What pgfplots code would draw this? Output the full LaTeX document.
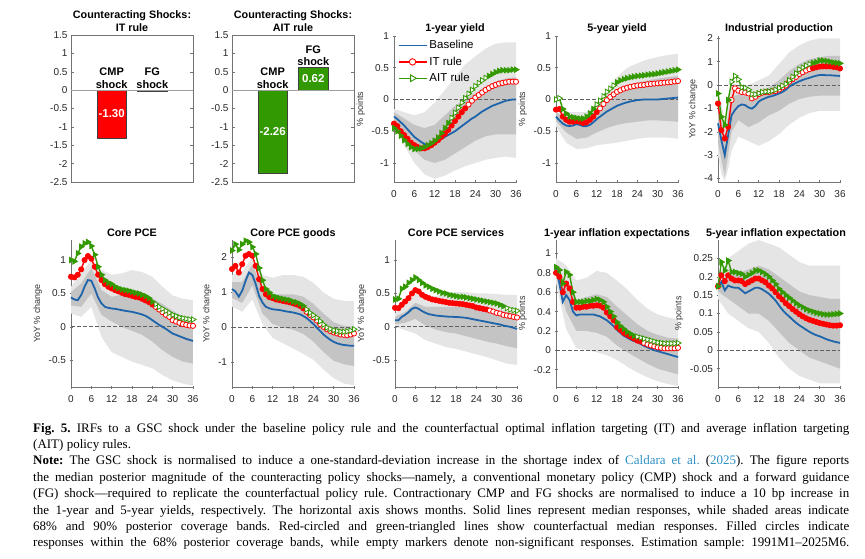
\documentclass[border=0pt]{standalone}
\usepackage{pgfplots}
\pgfplotsset{compat=1.18}
\usepackage{pgfplotstable}
\usepgfplotslibrary{fillbetween}
\usepackage{fontspec}
\setmainfont{Liberation Sans}
\newfontfamily\capfont{Liberation Serif}

\definecolor{mblue}{RGB}{30,100,170}
\definecolor{mred}{RGB}{255,0,0}
\definecolor{mgreen}{RGB}{51,153,0}
\definecolor{bnine}{gray}{0.9}
\definecolor{bsix}{gray}{0.77}
\definecolor{axgray}{gray}{0.45}
\definecolor{linkblue}{RGB}{43,143,196}

\pgfplotsset{
  common/.style={scale only axis, anchor=south west,
    tick align=inside, major tick length=3pt,
    tick style={draw=axgray, line width=0.5pt},
    ticklabel style={font=\fontsize{10}{11}\selectfont, text=black!85},
    yticklabel style={/pgf/number format/fixed, /pgf/number format/precision=2},
    scaled y ticks=false,
    every axis title/.style={at={(0.5,1)}, anchor=south, inner sep=0pt, yshift=1.5pt,
      font=\bfseries\fontsize{10.8}{13}\selectfont, align=center, text depth=2.3pt},
    ylabel style={font=\fontsize{9}{10}\selectfont, text=black!80},
    clip=false, /pgf/number format/assume math mode=true},
  lp/.style={common, width=122pt, height=146pt,
    axis lines=left, axis line style={-, draw=axgray, line width=0.6pt},
    xmin=0, xmax=36, xtick={0,6,...,36}, xticklabel style={yshift=-3pt}},
  bp/.style={common, width=122pt, height=147pt,
    xmin=0, xmax=3, ymin=-2.5, ymax=1.5, ytick={-2.5,-2,...,1.5}, xtick=\empty,
    axis line style={draw=axgray, line width=0.6pt}},
  itF/.style={only marks, mark=*, mark size=2.6pt, mark options={draw=mred, fill=mred, line width=0.8pt, solid}, forget plot},
  itO/.style={only marks, mark=*, mark size=2.6pt, mark options={draw=mred, fill=white, line width=0.8pt, solid}, forget plot},
  aitF/.style={only marks, mark=triangle*, mark size=3.1pt, mark options={draw=mgreen, fill=mgreen, line width=0.8pt, rotate=-90, solid}, forget plot},
  aitO/.style={only marks, mark=triangle*, mark size=3.1pt, mark options={draw=mgreen, fill=white, line width=0.8pt, rotate=-90, solid}, forget plot},
}

\newcommand\bands[2]{%
  \addplot[draw=none, forget plot, name path=ua#2] table[x=x,y=u9]{#1};
  \addplot[draw=none, forget plot, name path=la#2] table[x=x,y=l9]{#1};
  \addplot[fill=bnine, draw=none, forget plot] fill between[of=ua#2 and la#2];
  \addplot[draw=none, forget plot, name path=ub#2] table[x=x,y=u6]{#1};
  \addplot[draw=none, forget plot, name path=lb#2] table[x=x,y=l6]{#1};
  \addplot[fill=bsix, draw=none, forget plot] fill between[of=ub#2 and lb#2];
  \addplot[forget plot, draw=black!62, line width=1pt, dash pattern=on 3.5pt off 2.5pt] coordinates {(0,0) (36,0)};
}
\newcommand\itline[1]{\addplot[draw=mred, line width=1.4pt, forget plot] table[x=x,y=it]{#1};}
\newcommand\aitline[1]{\addplot[draw=mgreen, line width=1.4pt, forget plot] table[x=x,y=ait]{#1};}
\newcommand\itf[2]{\addplot[itF, restrict x to domain=#2] table[x=x,y=it]{#1};}
\newcommand\ito[2]{\addplot[itO, restrict x to domain=#2] table[x=x,y=it]{#1};}
\newcommand\aitf[2]{\addplot[aitF, restrict x to domain=#2] table[x=x,y=ait]{#1};}
\newcommand\aito[2]{\addplot[aitO, restrict x to domain=#2] table[x=x,y=ait]{#1};}
\newcommand\base[1]{\addplot[draw=mblue, line width=1.8pt, forget plot] table[x=x,y=b]{#1};}

% ---------- 1-year yield
\pgfplotstableread[row sep=\\]{x b it ait\\
0 -0.27 -0.38 -0.45\\ 1 -0.31 -0.42 -0.50\\ 2 -0.36 -0.50 -0.57\\ 3 -0.41 -0.56 -0.64\\
4 -0.47 -0.62 -0.70\\ 5 -0.53 -0.68 -0.75\\ 6 -0.59 -0.72 -0.78\\ 7 -0.63 -0.75 -0.78\\
8 -0.67 -0.77 -0.77\\ 9 -0.70 -0.77 -0.75\\ 10 -0.73 -0.75 -0.72\\ 11 -0.72 -0.72 -0.69\\
12 -0.69 -0.68 -0.65\\ 13 -0.66 -0.64 -0.60\\ 14 -0.62 -0.59 -0.53\\ 15 -0.59 -0.54 -0.45\\
16 -0.56 -0.48 -0.37\\ 17 -0.53 -0.41 -0.29\\ 18 -0.50 -0.34 -0.21\\ 19 -0.46 -0.27 -0.13\\
20 -0.42 -0.20 -0.05\\ 21 -0.38 -0.14 0.02\\ 22 -0.34 -0.08 0.09\\ 23 -0.30 -0.02 0.15\\
24 -0.27 0.03 0.21\\ 25 -0.23 0.07 0.26\\ 26 -0.19 0.11 0.30\\ 27 -0.16 0.15 0.34\\
28 -0.13 0.18 0.37\\ 29 -0.10 0.21 0.40\\ 30 -0.08 0.23 0.43\\ 31 -0.06 0.25 0.45\\
32 -0.04 0.26 0.46\\ 33 -0.02 0.27 0.46\\ 34 -0.01 0.28 0.46\\ 35 0.00 0.28 0.47\\ 36 0.00 0.28 0.47\\}\LOneY
\pgfplotstableread[row sep=\\]{x u9 l9 u6 l6\\
0 -0.15 -0.42 -0.20 -0.35\\ 3 -0.20 -0.72 -0.30 -0.55\\ 6 -0.25 -1.00 -0.40 -0.80\\
9 -0.20 -1.18 -0.45 -0.95\\ 12 -0.05 -1.25 -0.40 -1.00\\ 15 0.15 -1.20 -0.25 -0.95\\
18 0.35 -1.12 -0.10 -0.85\\ 21 0.55 -1.05 0.00 -0.75\\ 24 0.68 -1.00 0.10 -0.65\\
27 0.80 -0.95 0.20 -0.58\\ 30 0.88 -0.92 0.28 -0.55\\ 33 0.90 -0.90 0.33 -0.55\\ 36 0.90 -0.92 0.35 -0.55\\}\BOneY

% ---------- 5-year yield
\pgfplotstableread[row sep=\\]{x b it ait\\
0 -0.27 -0.16 0.00\\ 1 -0.33 -0.15 0.02\\ 2 -0.38 -0.27 -0.15\\ 3 -0.41 -0.32 -0.22\\
4 -0.42 -0.35 -0.27\\ 5 -0.41 -0.35 -0.28\\ 6 -0.39 -0.34 -0.29\\ 7 -0.40 -0.35 -0.30\\
8 -0.42 -0.37 -0.30\\ 9 -0.42 -0.36 -0.27\\ 10 -0.40 -0.32 -0.22\\ 11 -0.36 -0.27 -0.15\\
12 -0.31 -0.20 -0.08\\ 13 -0.27 -0.14 -0.02\\ 14 -0.23 -0.07 0.05\\ 15 -0.19 -0.01 0.12\\
16 -0.16 0.04 0.17\\ 17 -0.13 0.08 0.22\\ 18 -0.10 0.12 0.27\\ 19 -0.08 0.145 0.30\\
20 -0.06 0.17 0.32\\ 21 -0.045 0.185 0.335\\ 22 -0.03 0.20 0.35\\ 23 -0.02 0.21 0.36\\
24 -0.01 0.22 0.37\\ 25 -0.005 0.225 0.375\\ 26 0.00 0.23 0.38\\ 27 0.00 0.24 0.39\\
28 0.00 0.245 0.395\\ 29 0.00 0.25 0.40\\ 30 0.00 0.255 0.41\\ 31 0.005 0.26 0.42\\
32 0.01 0.265 0.43\\ 33 0.015 0.27 0.44\\ 34 0.02 0.275 0.45\\ 35 0.025 0.285 0.46\\ 36 0.03 0.29 0.47\\}\LFiveY
\pgfplotstableread[row sep=\\]{x u9 l9 u6 l6\\
0 -0.15 -0.42 -0.21 -0.34\\ 3 -0.20 -0.68 -0.28 -0.52\\ 6 -0.20 -0.78 -0.30 -0.62\\
9 -0.20 -0.77 -0.30 -0.60\\ 12 -0.05 -0.72 -0.20 -0.52\\ 15 0.15 -0.70 -0.05 -0.45\\
18 0.35 -0.68 0.10 -0.40\\ 21 0.50 -0.65 0.20 -0.37\\ 24 0.57 -0.62 0.27 -0.35\\
27 0.63 -0.60 0.30 -0.33\\ 30 0.67 -0.60 0.33 -0.33\\ 33 0.70 -0.60 0.35 -0.34\\ 36 0.72 -0.62 0.37 -0.35\\}\BFiveY

% ---------- Industrial production
\pgfplotstableread[row sep=\\]{x b it ait\\
0 -1.64 -0.79 -0.36\\ 1 -2.36 -1.93 -1.36\\ 2 -3.00 -2.29 -1.71\\ 3 -2.14 -1.79 -0.64\\
4 -1.29 -0.64 0.14\\ 5 -1.07 -0.14 0.39\\ 6 -0.90 -0.24 0.24\\ 7 -0.83 -0.30 -0.10\\
8 -0.86 -0.32 -0.12\\ 9 -0.96 -0.36 -0.20\\ 10 -1.01 -0.57 -0.39\\ 11 -0.90 -0.50 -0.40\\
12 -0.71 -0.39 -0.35\\ 13 -0.62 -0.33 -0.30\\ 14 -0.56 -0.30 -0.28\\ 15 -0.50 -0.30 -0.27\\
16 -0.47 -0.27 -0.25\\ 17 -0.42 -0.25 -0.20\\ 18 -0.36 -0.19 -0.12\\ 19 -0.30 -0.10 -0.03\\
20 -0.20 -0.02 0.05\\ 21 -0.07 0.14 0.20\\ 22 0.02 0.25 0.35\\ 23 0.09 0.35 0.50\\
24 0.16 0.47 0.67\\ 25 0.22 0.55 0.75\\ 26 0.27 0.62 0.83\\ 27 0.31 0.68 0.90\\
28 0.36 0.72 0.95\\ 29 0.40 0.76 0.98\\ 30 0.43 0.79 1.05\\ 31 0.43 0.80 1.05\\
32 0.42 0.80 1.03\\ 33 0.42 0.80 1.00\\ 34 0.41 0.78 0.97\\ 35 0.40 0.76 0.95\\ 36 0.39 0.71 0.93\\}\LIP
\pgfplotstableread[row sep=\\]{x u9 l9 u6 l6\\
0 -0.3 -3.0 -0.8 -2.5\\ 1 -0.8 -3.8 -1.5 -3.2\\ 2 -1.5 -4.1 -2.2 -3.9\\ 3 -0.5 -3.6 -1.3 -3.0\\
4 0.1 -2.8 -0.5 -2.0\\ 6 0.0 -2.2 -0.4 -1.5\\ 9 0.0 -2.4 -0.5 -1.8\\ 12 0.2 -2.6 -0.3 -1.6\\
15 0.4 -2.4 -0.1 -1.3\\ 18 0.9 -2.1 0.2 -1.1\\ 21 1.4 -1.7 0.6 -0.8\\ 24 1.7 -1.4 0.9 -0.6\\
27 1.9 -1.2 1.1 -0.5\\ 30 2.0 -1.1 1.2 -0.45\\ 33 2.0 -1.1 1.25 -0.45\\ 36 2.0 -1.1 1.25 -0.45\\}\BIP

% ---------- Core PCE
\pgfplotstableread[row sep=\\]{x b it ait\\
0 0.44 0.75 1.00\\ 1 0.41 0.74 0.98\\ 2 0.40 0.78 1.10\\ 3 0.475 0.86 1.20\\
4 0.60 1.00 1.25\\ 5 0.70 1.06 1.27\\ 6 0.69 1.02 1.21\\ 7 0.575 0.90 1.08\\
8 0.44 0.78 0.90\\ 9 0.35 0.70 0.78\\ 10 0.30 0.64 0.70\\ 11 0.285 0.60 0.66\\
12 0.275 0.575 0.64\\ 13 0.27 0.55 0.60\\ 14 0.26 0.53 0.58\\ 15 0.25 0.51 0.56\\
16 0.24 0.49 0.55\\ 17 0.232 0.48 0.54\\ 18 0.225 0.465 0.525\\ 19 0.212 0.45 0.51\\
20 0.20 0.44 0.50\\ 21 0.185 0.42 0.48\\ 22 0.165 0.395 0.46\\ 23 0.135 0.37 0.43\\
24 0.10 0.335 0.375\\ 25 0.065 0.30 0.34\\ 26 0.03 0.26 0.30\\ 27 0.00 0.22 0.27\\
28 -0.03 0.18 0.24\\ 29 -0.065 0.15 0.21\\ 30 -0.10 0.10 0.18\\ 31 -0.12 0.08 0.16\\
32 -0.14 0.06 0.14\\ 33 -0.16 0.04 0.13\\ 34 -0.18 0.03 0.12\\ 35 -0.195 0.02 0.11\\ 36 -0.21 0.015 0.11\\}\LPCE
\pgfplotstableread[row sep=\\]{x u9 l9 u6 l6\\
0 0.60 0.20 0.52 0.32\\ 3 0.80 0.15 0.65 0.30\\ 6 1.00 0.30 0.88 0.50\\ 9 0.85 -0.15 0.55 0.18\\
12 0.78 -0.38 0.45 0.08\\ 15 0.80 -0.45 0.48 0.00\\ 18 0.85 -0.52 0.50 -0.06\\ 21 0.82 -0.57 0.48 -0.12\\
24 0.75 -0.62 0.43 -0.22\\ 27 0.60 -0.72 0.34 -0.35\\ 30 0.47 -0.80 0.24 -0.45\\ 33 0.42 -0.85 0.16 -0.52\\ 36 0.40 -0.88 0.12 -0.55\\}\BPCE

% ---------- Core PCE goods
\pgfplotstableread[row sep=\\]{x b it ait\\
0 1.10 1.67 2.20\\ 1 1.03 1.76 2.38\\ 2 0.88 1.57 2.22\\ 3 1.05 1.81 2.38\\
4 1.33 2.05 2.48\\ 5 1.57 2.10 2.44\\ 6 1.50 2.05 2.30\\ 7 1.24 1.76 2.10\\
8 0.90 1.38 1.70\\ 9 0.71 1.10 1.35\\ 10 0.59 0.95 1.10\\ 11 0.55 0.87 1.00\\
12 0.52 0.84 0.90\\ 13 0.51 0.80 0.87\\ 14 0.50 0.78 0.84\\ 15 0.48 0.76 0.82\\
16 0.46 0.74 0.80\\ 17 0.445 0.72 0.78\\ 18 0.43 0.69 0.74\\ 19 0.405 0.66 0.72\\
20 0.38 0.62 0.68\\ 21 0.33 0.55 0.62\\ 22 0.27 0.45 0.52\\ 23 0.19 0.36 0.42\\
24 0.10 0.29 0.35\\ 25 0.00 0.20 0.28\\ 26 -0.10 0.10 0.18\\ 27 -0.20 0.02 0.08\\
28 -0.28 -0.05 0.00\\ 29 -0.35 -0.10 -0.04\\ 30 -0.41 -0.14 -0.08\\ 31 -0.45 -0.17 -0.10\\
32 -0.48 -0.20 -0.12\\ 33 -0.50 -0.21 -0.12\\ 34 -0.51 -0.22 -0.11\\ 35 -0.52 -0.20 -0.09\\ 36 -0.52 -0.17 -0.05\\}\LPCEG
\pgfplotstableread[row sep=\\]{x u9 l9 u6 l6\\
0 1.50 0.60 1.30 0.85\\ 3 1.60 0.45 1.30 0.70\\ 6 2.00 0.80 1.80 1.20\\ 9 1.50 0.10 1.10 0.40\\
12 1.42 -0.30 0.95 0.10\\ 15 1.50 -0.45 0.95 0.00\\ 18 1.50 -0.60 0.95 -0.06\\ 21 1.45 -0.75 0.88 -0.18\\
24 1.28 -0.92 0.68 -0.40\\ 27 1.00 -1.20 0.40 -0.70\\ 30 0.82 -1.45 0.15 -0.95\\ 33 0.76 -1.60 0.05 -1.05\\ 36 0.75 -1.65 0.02 -1.10\\}\BPCEG

% ---------- Core PCE services
\pgfplotstableread[row sep=\\]{x b it ait\\
0 0.10 0.285 0.41\\ 1 0.10 0.28 0.42\\ 2 0.15 0.33 0.57\\ 3 0.18 0.38 0.60\\
4 0.22 0.43 0.66\\ 5 0.27 0.50 0.70\\ 6 0.29 0.55 0.74\\ 7 0.27 0.53 0.70\\
8 0.235 0.48 0.66\\ 9 0.21 0.45 0.62\\ 10 0.19 0.43 0.60\\ 11 0.18 0.41 0.57\\
12 0.17 0.40 0.55\\ 13 0.165 0.39 0.53\\ 14 0.16 0.38 0.51\\ 15 0.155 0.37 0.50\\
16 0.152 0.36 0.48\\ 17 0.15 0.355 0.47\\ 18 0.148 0.35 0.46\\ 19 0.145 0.345 0.45\\
20 0.14 0.34 0.45\\ 21 0.135 0.33 0.44\\ 22 0.125 0.32 0.43\\ 23 0.115 0.31 0.42\\
24 0.105 0.29 0.41\\ 25 0.095 0.28 0.40\\ 26 0.085 0.27 0.39\\ 27 0.075 0.26 0.38\\
28 0.065 0.245 0.37\\ 29 0.055 0.23 0.36\\ 30 0.045 0.21 0.35\\ 31 0.035 0.20 0.33\\
32 0.02 0.18 0.31\\ 33 0.01 0.17 0.28\\ 34 0.00 0.16 0.26\\ 35 -0.015 0.15 0.25\\ 36 -0.03 0.14 0.24\\}\LPCES
\pgfplotstableread[row sep=\\]{x u9 l9 u6 l6\\
0 0.20 0.00 0.15 0.04\\ 3 0.32 -0.05 0.22 0.06\\ 6 0.50 -0.10 0.36 0.12\\ 9 0.45 -0.20 0.30 0.02\\
12 0.46 -0.25 0.30 -0.04\\ 15 0.50 -0.30 0.30 -0.08\\ 18 0.52 -0.33 0.30 -0.10\\ 21 0.52 -0.37 0.29 -0.14\\
24 0.50 -0.41 0.28 -0.18\\ 27 0.50 -0.45 0.27 -0.22\\ 30 0.49 -0.50 0.25 -0.25\\ 33 0.48 -0.55 0.22 -0.29\\ 36 0.48 -0.57 0.20 -0.32\\}\BPCES

% ---------- 1-year inflation expectations
\pgfplotstableread[row sep=\\]{x b it ait\\
0 0.84 0.80 0.86\\ 1 0.69 0.76 0.83\\ 2 0.50 0.60 0.69\\ 3 0.57 0.69 0.81\\
4 0.52 0.64 0.78\\ 5 0.40 0.50 0.60\\ 6 0.36 0.44 0.50\\ 7 0.37 0.44 0.50\\
8 0.37 0.45 0.50\\ 9 0.37 0.45 0.51\\ 10 0.37 0.46 0.51\\ 11 0.37 0.46 0.52\\
12 0.36 0.465 0.53\\ 13 0.35 0.46 0.52\\ 14 0.33 0.44 0.50\\ 15 0.31 0.39 0.45\\
16 0.28 0.35 0.40\\ 17 0.25 0.31 0.35\\ 18 0.21 0.24 0.29\\ 19 0.18 0.21 0.25\\
20 0.15 0.18 0.22\\ 21 0.13 0.16 0.19\\ 22 0.11 0.14 0.17\\ 23 0.095 0.12 0.15\\
24 0.085 0.10 0.14\\ 25 0.065 0.09 0.13\\ 26 0.045 0.075 0.12\\ 27 0.03 0.06 0.11\\
28 0.015 0.05 0.10\\ 29 0.00 0.04 0.09\\ 30 -0.01 0.03 0.08\\ 31 -0.02 0.025 0.075\\
32 -0.03 0.02 0.07\\ 33 -0.04 0.02 0.07\\ 34 -0.05 0.02 0.07\\ 35 -0.06 0.02 0.07\\ 36 -0.07 0.025 0.075\\}\LOneI
\pgfplotstableread[row sep=\\]{x u9 l9 u6 l6\\
0 0.95 0.70 0.90 0.78\\ 3 0.88 0.22 0.68 0.40\\ 6 0.72 0.02 0.52 0.20\\ 9 0.75 0.00 0.55 0.20\\
12 0.82 -0.02 0.58 0.18\\ 15 0.80 -0.05 0.55 0.14\\ 18 0.72 -0.10 0.45 0.05\\ 21 0.63 -0.17 0.36 -0.02\\
24 0.52 -0.23 0.27 -0.08\\ 27 0.43 -0.28 0.20 -0.14\\ 30 0.37 -0.32 0.16 -0.19\\ 33 0.34 -0.35 0.13 -0.22\\ 36 0.32 -0.37 0.12 -0.25\\}\BOneI

% ---------- 5-year inflation expectations
\pgfplotstableread[row sep=\\]{x b it ait\\
0 0.172 0.174 0.174\\ 1 0.186 0.204 0.240\\ 2 0.163 0.188 0.217\\ 3 0.176 0.204 0.244\\
4 0.172 0.195 0.213\\ 5 0.170 0.190 0.213\\ 6 0.170 0.190 0.210\\ 7 0.163 0.188 0.208\\
8 0.155 0.180 0.200\\ 9 0.160 0.185 0.205\\ 10 0.165 0.190 0.210\\ 11 0.170 0.195 0.217\\
12 0.170 0.195 0.217\\ 13 0.166 0.190 0.213\\ 14 0.160 0.185 0.207\\ 15 0.154 0.176 0.200\\
16 0.145 0.168 0.190\\ 17 0.135 0.158 0.180\\ 18 0.122 0.147 0.167\\ 19 0.110 0.138 0.158\\
20 0.100 0.128 0.150\\ 21 0.092 0.120 0.143\\ 22 0.083 0.112 0.135\\ 23 0.075 0.105 0.128\\
24 0.068 0.098 0.122\\ 25 0.062 0.092 0.117\\ 26 0.056 0.087 0.112\\ 27 0.050 0.083 0.108\\
28 0.045 0.080 0.105\\ 29 0.041 0.077 0.102\\ 30 0.038 0.074 0.100\\ 31 0.034 0.072 0.098\\
32 0.030 0.070 0.097\\ 33 0.027 0.068 0.097\\ 34 0.024 0.067 0.098\\ 35 0.022 0.067 0.099\\ 36 0.020 0.068 0.100\\}\LFiveI
\pgfplotstableread[row sep=\\]{x u9 l9 u6 l6\\
0 0.20 0.14 0.18 0.16\\ 3 0.25 0.10 0.21 0.14\\ 6 0.27 0.08 0.21 0.12\\ 9 0.29 0.06 0.22 0.10\\
12 0.30 0.05 0.23 0.10\\ 15 0.29 0.02 0.22 0.08\\ 18 0.28 -0.02 0.20 0.05\\ 21 0.26 -0.05 0.18 0.02\\
24 0.24 -0.07 0.16 0.00\\ 27 0.23 -0.08 0.15 -0.02\\ 30 0.23 -0.09 0.145 -0.03\\ 33 0.23 -0.09 0.14 -0.04\\ 36 0.23 -0.09 0.14 -0.05\\}\BFiveI

\begin{document}
\begin{tikzpicture}

% ===== Bar panel: IT
\begin{axis}[bp, at={(71pt,376pt)}, title={Counteracting Shocks:\\IT rule}]
\addplot[ybar, bar width=0.72, fill=mred, draw=black!75, line width=0.5pt, forget plot] coordinates {(1,-1.30) (2,-0.04)};
\addplot[draw=gray!75, line width=1pt, forget plot] coordinates {(0,0) (3,0)};
\node[font=\bfseries\fontsize{11}{12.5}\selectfont, align=center, anchor=south, inner sep=1.5pt] at (axis cs:1,0) {CMP\\shock};
\node[font=\bfseries\fontsize{11}{12.5}\selectfont, align=center, anchor=south, inner sep=1.5pt] at (axis cs:2,0) {FG\\shock};
\node[font=\bfseries\fontsize{11.5}{12}\selectfont, text=white] at (axis cs:1,-0.65) {-1.30};
\end{axis}

% ===== Bar panel: AIT
\begin{axis}[bp, at={(232pt,376pt)}, title={Counteracting Shocks:\\AIT rule}]
\addplot[ybar, bar width=0.72, fill=mgreen, draw=black!75, line width=0.5pt, forget plot] coordinates {(1,-2.26) (2,0.62)};
\addplot[draw=gray!75, line width=1pt, forget plot] coordinates {(0,0) (3,0)};
\node[font=\bfseries\fontsize{11}{12.5}\selectfont, align=center, anchor=south, inner sep=1.5pt] at (axis cs:1,0) {CMP\\shock};
\node[font=\bfseries\fontsize{11}{12.5}\selectfont, align=center, anchor=south, inner sep=1.5pt] at (axis cs:2,0.62) {FG\\shock};
\node[font=\bfseries\fontsize{11.5}{12}\selectfont, text=white] at (axis cs:1,-1.13) {-2.26};
\node[font=\bfseries\fontsize{11.5}{12}\selectfont, text=white] at (axis cs:2,0.31) {0.62};
\end{axis}

% ===== 1-year yield
\begin{axis}[lp, at={(394pt,376pt)}, ymin=-1.3, ymax=1, ytick={-1,-0.5,0,0.5,1},
  title={1-year yield}, ylabel={\% points},
  legend style={at={(0.02,0.99)}, anchor=north west, draw=none, fill=none,
    font=\fontsize{11.5}{12}\selectfont, row sep=2.5pt, inner sep=1pt},
  legend cell align=left,
  legend image code/.code={\draw[#1, mark repeat=3, mark phase=2] plot coordinates {(0pt,0pt) (14pt,0pt) (28pt,0pt)};}]
\addlegendimage{draw=mblue, line width=1.8pt}
\addlegendentry{Baseline}
\addlegendimage{draw=mred, line width=1.4pt, mark=*, mark size=3.2pt, mark options={draw=mred, fill=white, line width=0.9pt}}
\addlegendentry{IT rule}
\addlegendimage{draw=mgreen, line width=1.4pt, mark=triangle*, mark size=3.8pt, mark options={draw=mgreen, fill=white, line width=0.9pt, rotate=-90}}
\addlegendentry{AIT rule}
\bands{\BOneY}{a}
\itline{\LOneY}\itf{\LOneY}{0:21}\ito{\LOneY}{22:36}
\aitline{\LOneY}\aitf{\LOneY}{0:16}\aito{\LOneY}{17:27}\aitf{\LOneY}{28:36}
\base{\LOneY}
\end{axis}

% ===== 5-year yield
\begin{axis}[lp, at={(556pt,376pt)}, ymin=-1.3, ymax=1, ytick={-1,-0.5,0,0.5,1},
  title={5-year yield}, ylabel={\% points}]
\bands{\BFiveY}{b}
\itline{\LFiveY}\itf{\LFiveY}{0:12}\ito{\LFiveY}{13:36}
\aitline{\LFiveY}\aito{\LFiveY}{0:1}\aitf{\LFiveY}{2:11}\aito{\LFiveY}{12:17}\aitf{\LFiveY}{18:36}
\base{\LFiveY}
\end{axis}

% ===== Industrial production
\begin{axis}[lp, at={(718pt,376pt)}, ymin=-4.15, ymax=2.1, ytick={-4,-3,-2,-1,0,1,2},
  title={Industrial production}, ylabel={YoY \% change}]
\bands{\BIP}{c}
\itline{\LIP}\itf{\LIP}{0:3}\ito{\LIP}{4:27}\itf{\LIP}{28:36}
\aitline{\LIP}\aitf{\LIP}{0:3}\aito{\LIP}{4:27}\aitf{\LIP}{28:36}
\base{\LIP}
\end{axis}

% ===== Core PCE
\begin{axis}[lp, at={(71pt,171pt)}, height=147pt, ymin=-0.9, ymax=1.3, ytick={-0.5,0,0.5,1},
  title={Core PCE}, ylabel={YoY \% change}]
\bands{\BPCE}{d}
\itline{\LPCE}\itf{\LPCE}{0:24}\ito{\LPCE}{25:36}
\aitline{\LPCE}\aitf{\LPCE}{0:24}\aito{\LPCE}{25:36}
\base{\LPCE}
\end{axis}

% ===== Core PCE goods
\begin{axis}[lp, at={(232pt,171pt)}, height=147pt, ymin=-1.7, ymax=2.5, ytick={-1,0,1,2},
  title={Core PCE goods}, ylabel={YoY \% change}]
\bands{\BPCEG}{e}
\itline{\LPCEG}\itf{\LPCEG}{0:21}\ito{\LPCEG}{22:36}
\aitline{\LPCEG}\aitf{\LPCEG}{0:21}\aito{\LPCEG}{22:36}
\base{\LPCEG}
\end{axis}

% ===== Core PCE services
\begin{axis}[lp, at={(395pt,171pt)}, height=147pt, ymin=-0.9, ymax=1.3, ytick={-0.5,0,0.5,1},
  title={Core PCE services}, ylabel={YoY \% change}]
\bands{\BPCES}{f}
\itline{\LPCES}\itf{\LPCES}{0:27}\ito{\LPCES}{28:36}
\aitline{\LPCES}\aitf{\LPCES}{0:32}\aito{\LPCES}{33:36}
\base{\LPCES}
\end{axis}

% ===== 1-year inflation expectations
\begin{axis}[lp, at={(556pt,171pt)}, height=147pt, ymin=-0.38, ymax=1.14, ytick={-0.2,0,0.2,0.4,0.6,0.8,1},
  title={1-year inflation expectations}, ylabel={\% points}]
\bands{\BOneI}{g}
\itline{\LOneI}\itf{\LOneI}{0:25}\ito{\LOneI}{26:36}
\aitline{\LOneI}\aitf{\LOneI}{0:23}\aito{\LOneI}{24:36}
\base{\LOneI}
\end{axis}

% ===== 5-year inflation expectations
\begin{axis}[lp, at={(718pt,171pt)}, height=147pt, ymin=-0.1, ymax=0.3, ytick={-0.05,0,0.05,0.1,0.15,0.2,0.25},
  title={5-year inflation expectations}, ylabel={\% points}]
\bands{\BFiveI}{h}
\itline{\LFiveI}\itf{\LFiveI}{0:36}
\aitline{\LFiveI}\aitf{\LFiveI}{0:36}
\base{\LFiveI}
\end{axis}
% the source figure is cropped just right of the last title
\fill[white] (846pt,318pt) rectangle (866pt,338pt);

% ===== Caption
\node[anchor=base west, inner sep=0pt] at (33pt,126pt) {\begin{minipage}[t]{816pt}\capfont\fontsize{13}{16.4}\selectfont\frenchspacing
\makebox[\linewidth][s]{\textbf{Fig. 5.} IRFs to a GSC shock under the baseline policy rule and the counterfactual optimal inflation targeting (IT) and average inflation targeting}\par
(AIT) policy rules.\par
\makebox[\linewidth][s]{\textbf{Note:} The GSC shock is normalised to induce a one-standard-deviation increase in the shortage index of \textcolor{linkblue}{Caldara et al.} (\textcolor{linkblue}{2025}). The figure reports}\par
\makebox[\linewidth][s]{the median posterior magnitude of the counteracting policy shocks—namely, a conventional monetary policy (CMP) shock and a forward guidance}\par
\makebox[\linewidth][s]{(FG) shock—required to replicate the counterfactual policy rule. Contractionary CMP and FG shocks are normalised to induce a 10 bp increase in}\par
\makebox[\linewidth][s]{the 1-year and 5-year yields, respectively. The horizontal axis shows months. Solid lines represent median responses, while shaded areas indicate}\par
\makebox[\linewidth][s]{68\% and 90\% posterior coverage bands. Red-circled and green-triangled lines show counterfactual median responses. Filled circles indicate}\par
\makebox[\linewidth][s]{responses within the 68\% posterior coverage bands, while empty markers denote non-significant responses. Estimation sample: 1991M1–2025M6.}
\end{minipage}};

\pgfresetboundingbox
\useasboundingbox (0pt,0pt) rectangle (865pt,558pt);
\end{tikzpicture}
\end{document}
